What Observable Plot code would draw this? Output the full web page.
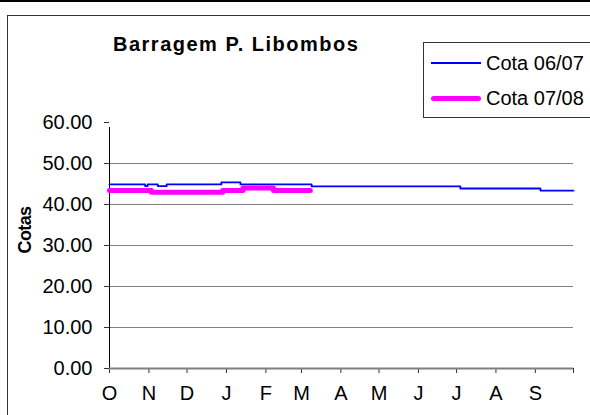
<!DOCTYPE html>
<html>
<head>
<meta charset="utf-8">
<script src="https://cdn.jsdelivr.net/npm/d3@7"></script>
<script src="https://cdn.jsdelivr.net/npm/@observablehq/plot@0.6"></script>
<style>
  html, body { margin: 0; padding: 0; background: #fff; }
  #wrap { position: relative; width: 590px; height: 415px; overflow: hidden; font-family: "Liberation Sans", Arial, sans-serif; }
  #topline { position: absolute; left: 0; top: 0; width: 590px; height: 2px; background: #000; }
  #box { position: absolute; left: 7px; top: 15px; width: 700px; height: 500px; border: 1px solid #333; box-sizing: border-box; }
  #title { position: absolute; left: 113px; top: 33px; font-size: 20px; font-weight: bold; letter-spacing: 1.5px; white-space: nowrap; }
  #ylabel { position: absolute; left: 25px; top: 230px; font-size: 18px; font-weight: bold; transform: translate(-50%, -50%) rotate(-90deg); white-space: nowrap; letter-spacing: -0.6px; }
  #legend { position: absolute; left: 423px; top: 42px; width: 200px; height: 76px; border: 1px solid #333; box-sizing: border-box; background: #fff; }
  .lg { position: absolute; left: 0; height: 30px; display: flex; align-items: center; font-size: 20px; white-space: nowrap; }
  .sw { display: inline-block; margin-left: 7px; margin-right: 5px; }
  #plot { position: absolute; left: 0; top: 0; }
</style>
</head>
<body>
<div id="wrap">
  <div id="topline"></div>
  <div id="box"></div>
  <div id="plot"></div>
  <div id="title">Barragem P. Libombos</div>
  <div id="ylabel">Cotas</div>
  <div id="legend"></div>
</div>
<script>
// Month labels (hydrological year Oct–Sep)
const months = ["O", "N", "D", "J", "F", "M", "A", "M", "J", "J", "A", "S"];
const yTicks = [0, 10, 20, 30, 40, 50, 60];
const seriesNames = ["Cota 06/07", "Cota 07/08"];
const seriesColors = ["#0000ff", "#ff00ff"];

// Cota 06/07 (step changes)
const cota0607Dates = ["2006-10-01", "2006-10-29", "2006-10-31", "2006-11-08", "2006-11-15", "2006-12-28", "2007-01-12", "2007-03-09", "2007-07-04", "2007-09-05", "2007-10-01"];
const cota0607Values = [44.9, 44.5, 44.9, 44.5, 44.9, 45.4, 44.9, 44.4, 43.9, 43.4, 43.4];

// Cota 07/08 (plotted on the same Oct–Sep axis)
const cota0708Dates = ["2006-10-01", "2006-11-03", "2006-12-29", "2007-01-14", "2007-02-07", "2007-03-08"];
const cota0708Values = [43.4, 43.0, 43.4, 44.0, 43.4, 43.4];

const parse = d3.utcParse("%Y-%m-%d");
const s1 = cota0607Dates.map((d, i) => ({date: parse(d), v: cota0607Values[i]}));
const s2 = cota0708Dates.map((d, i) => ({date: parse(d), v: cota0708Values[i]}));

const start = parse("2006-10-01"), end = parse("2007-10-01");
const bounds = d3.utcMonth.range(start, d3.utcDay.offset(end, 1));
const monthData = months.map((m, i) => ({m, x: bounds[i]}));

const chart = Plot.plot({
  width: 590,
  height: 415,
  marginLeft: 109,
  marginRight: 17,
  marginTop: 122,
  marginBottom: 47,
  style: {fontFamily: '"Liberation Sans", Arial, sans-serif', fontSize: "20px", color: "#000", background: "transparent"},
  x: {type: "utc", domain: [start, end]},
  y: {domain: [0, 60]},
  marks: [
    Plot.gridY(yTicks.filter(t => t > 0 && t < 60), {stroke: "#808080", strokeOpacity: 1, strokeWidth: 1.2}),
    Plot.axisY({ticks: yTicks, tickFormat: d3.format(".2f"), tickSize: 5, tickPadding: 12, label: null, fontSize: 20, stroke: "#333"}),
    Plot.axisX({ticks: bounds, tickFormat: () => "", tickSize: 5, tickPadding: 0, label: null, stroke: "#333"}),
    Plot.ruleX([start], {y1: 0, y2: 60, stroke: "#000", strokeWidth: 1, insetBottom: -5}),
    Plot.ruleY([0], {stroke: "#808080", strokeWidth: 2}),
    Plot.text(monthData, {x: "x", text: "m", frameAnchor: "bottom", dy: 31, fontSize: 20, fill: "#000"}),
    Plot.line(s1, {x: "date", y: "v", curve: "step-after", stroke: seriesColors[0], strokeWidth: 1.8}),
    Plot.line(s2, {x: "date", y: "v", curve: "step-after", stroke: seriesColors[1], strokeWidth: 5, strokeLinecap: "round"})
  ]
});
document.getElementById("plot").appendChild(chart);

// Legend
const legend = document.getElementById("legend");
seriesNames.forEach((name, i) => {
  const row = document.createElement("div");
  row.className = "lg";
  row.style.top = (i === 0 ? 5 : 40) + "px";
  const sw = document.createElement("span");
  sw.className = "sw";
  sw.style.width = "50px";
  sw.style.height = (i === 0 ? 2 : 5) + "px";
  sw.style.background = seriesColors[i];
  sw.style.borderRadius = i === 0 ? "0" : "3px";
  row.appendChild(sw);
  const t = document.createElement("span");
  t.textContent = name;
  row.appendChild(t);
  legend.appendChild(row);
});
</script>
</body>
</html>
